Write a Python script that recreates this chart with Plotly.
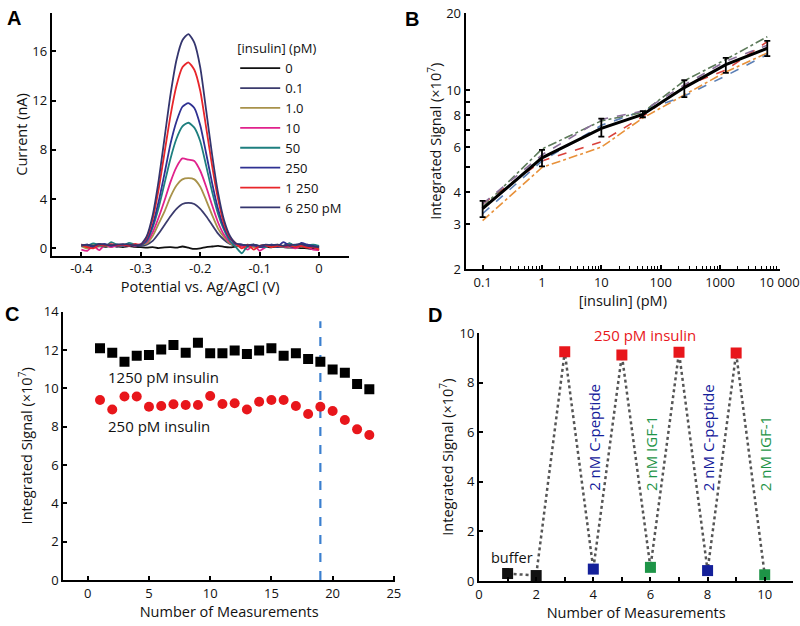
import plotly.graph_objects as go

# ---------------- Panel A data ----------------
potential = [-0.40, -0.39, -0.38, -0.37, -0.36, -0.35, -0.34, -0.33, -0.32, -0.31, -0.30,
             -0.29, -0.28, -0.27, -0.26, -0.25, -0.24, -0.23, -0.22, -0.21, -0.20,
             -0.19, -0.18, -0.17, -0.16, -0.15, -0.14, -0.13, -0.12, -0.11, -0.10,
             -0.09, -0.08, -0.07, -0.06, -0.05, -0.04, -0.03, -0.02, -0.01, 0.00]

cur_0 = [0.15, 0.22, 0.10, 0.18, 0.12, 0.20, 0.15, 0.10, 0.18, 0.12, 0.10,
         0.05, 0.10, 0.02, 0.08, 0.10, 0.05, 0.15, 0.05, -0.05, 0.00,
         0.10, 0.15, 0.20, 0.12, 0.08, 0.15, 0.20, 0.15, 0.18, 0.10,
         0.12, 0.08, 0.15, 0.10, 0.05, 0.08, 0.02, 0.00, -0.05, -0.10]
cur_0p1 = [0.3, 0.1, 0.25, 0.35, 0.2, 0.3, 0.15, 0.3, 0.25, 0.2, 0.2,
           0.3, 0.6, 1.2, 1.9, 2.6, 3.2, 3.6, 3.7, 3.6, 3.2,
           2.6, 1.9, 1.2, 0.7, 0.35, 0.2, 0.25, 0.2, 0.3, 0.15,
           0.2, 0.25, 0.1, 0.2, 0.4, 0.15, 0.2, 0.3, 0.1, 0.0]
cur_1 = [0.2, 0.0, 0.3, 0.15, 0.25, 0.1, 0.3, 0.2, 0.35, 0.25, 0.3,
         0.4, 1.0, 2.0, 3.0, 4.2, 5.1, 5.6, 5.7, 5.6, 5.0,
         3.9, 2.7, 1.6, 0.9, 0.4, 0.25, 0.2, 0.3, 0.1, 0.2,
         0.25, 0.15, 0.3, 0.2, 0.1, 0.25, 0.15, 0.2, 0.1, 0.05]
cur_10 = [-0.1, -0.2, 0.2, -0.15, 0.3, 0.1, 0.25, 0.2, 0.3, 0.2, 0.35,
          0.5, 1.3, 2.5, 3.9, 5.4, 6.6, 7.3, 7.2, 7.1, 6.3,
          5.0, 3.5, 2.1, 1.1, 0.5, 0.3, 0.2, -0.1, 0.3, -0.2,
          0.1, 0.25, 0.2, 0.1, 0.15, 0.0, 0.2, 0.1, -0.1, -0.15]
cur_50 = [0.3, 0.2, 0.4, 0.25, 0.15, 0.5, 0.3, 0.2, 0.45, 0.3, 0.25,
          0.6, 1.7, 3.3, 5.3, 7.3, 8.9, 9.9, 10.2, 9.8, 8.7,
          6.7, 4.6, 2.8, 1.5, 0.6, 0.1, -0.4, 0.2, 0.3, 0.15,
          0.1, 0.3, 0.2, 0.1, 0.4, 0.2, 0.35, 0.25, 0.3, 0.2]
cur_250 = [0.2, 0.3, 0.1, 0.25, 0.35, 0.2, 0.3, 0.25, 0.2, 0.3, 0.25,
           0.7, 1.9, 3.8, 6.1, 8.5, 10.3, 11.5, 11.8, 11.4, 10.0,
           7.7, 5.3, 3.2, 1.7, 0.8, 0.35, 0.3, 0.2, 0.25, 0.1,
           0.2, 0.3, 0.15, 0.5, 0.2, 0.1, 0.45, 0.3, 0.2, 0.1]
cur_1250 = [0.3, 0.1, 0.0, 0.3, 0.2, 0.35, 0.25, 0.3, 0.2, 0.35, 0.3,
            0.9, 2.4, 4.8, 7.8, 10.8, 13.2, 14.7, 15.1, 14.5, 12.8,
            9.8, 6.7, 4.0, 2.0, 0.9, 0.4, 0.0, 0.3, -0.1, 0.2,
            0.25, 0.1, 0.2, 0.15, 0.25, 0.1, 0.2, 0.05, 0.1, -0.1]
cur_6250 = [0.25, 0.3, 0.2, 0.35, 0.3, 0.25, 0.3, 0.35, 0.3, 0.25, 0.3,
            1.0, 2.7, 5.5, 9.0, 12.5, 15.3, 16.9, 17.4, 16.7, 14.7,
            11.2, 7.6, 4.5, 2.3, 1.0, 0.4, 0.3, 0.25, 0.3, 0.2,
            0.3, 0.25, 0.3, 0.2, 0.25, 0.3, 0.35, 0.2, 0.15, 0.1]

a_labels = ["0", "0.1", "1.0", "10", "50", "250", "1 250", "6 250 pM"]
a_colors = ["#111111", "#3b3b6d", "#a8924a", "#e0228c", "#1e7f7f", "#2f3192", "#e8262b", "#34356e"]
a_curves = [cur_0, cur_0p1, cur_1, cur_10, cur_50, cur_250, cur_1250, cur_6250]

# ---------------- Panel B data ----------------
conc_b = [0.1, 1, 10, 50, 250, 1250, 6250]
mean_b = [3.45, 5.45, 7.1, 8.05, 10.25, 12.6, 14.6]
err_up_b = [0.25, 0.4, 0.65, 0.25, 0.7, 0.8, 1.0]
err_dn_b = [0.25, 0.4, 0.5, 0.2, 0.85, 0.9, 1.0]
rep_red = [3.6, 5.3, 6.3, 7.9, 10.4, 12.0, 15.5]
rep_orange = [3.1, 5.0, 6.0, 7.8, 9.6, 11.8, 14.0]
rep_blue = [3.3, 5.3, 7.3, 8.3, 9.5, 11.4, 13.8]
rep_green = [3.5, 5.9, 7.6, 8.2, 10.9, 13.2, 16.2]
rep_purple = [3.6, 5.6, 7.7, 8.3, 10.5, 13.0, 15.0]
b_reps = [(rep_red, "#d9413b", "dash"), (rep_orange, "#e8913a", "dashdot"),
          (rep_blue, "#5b7fb5", "dash"), (rep_green, "#5d7a5a", "dashdot"),
          (rep_purple, "#8a6f9a", "dash")]
b_xticks = [0.1, 1, 10, 100, 1000, 10000]
b_xticktext = ["0.1", "1", "10", "100", "1000", "10 000"]
b_xminor = [0.2, 0.3, 0.4, 0.5, 0.6, 0.7, 0.8, 0.9,
            2, 3, 4, 5, 6, 7, 8, 9,
            20, 30, 40, 50, 60, 70, 80, 90,
            200, 300, 400, 500, 600, 700, 800, 900,
            2000, 3000, 4000, 5000, 6000, 7000, 8000, 9000]
b_yticks = [2, 3, 4, 6, 8, 10, 20]
b_yminor = [5, 7, 9]

# ---------------- Panel C data ----------------
meas_c = list(range(1, 24))
sig_1250 = [12.09, 11.86, 11.39, 11.70, 11.74, 12.03, 12.26, 11.86, 12.38, 11.83, 11.83, 11.97,
            11.79, 11.97, 12.09, 11.70, 11.83, 11.53, 11.39, 10.99, 10.82, 10.23, 9.95]
sig_250 = [9.39, 8.90, 9.57, 9.57, 9.04, 9.08, 9.17, 9.13, 9.13, 9.60, 9.18, 9.22,
           8.90, 9.30, 9.39, 9.39, 9.08, 8.66, 9.04, 8.82, 8.35, 7.86, 7.57]
vline_x = [19, 19]
vline_y = [0, 13.5]

# ---------------- Panel D data ----------------
meas_d = [1, 2, 3, 4, 5, 6, 7, 8, 9, 10]
sig_d = [0.30, 0.22, 9.25, 0.48, 9.12, 0.55, 9.23, 0.42, 9.20, 0.25]
d_colors = ["#111111", "#111111", "#e8161b", "#14209a", "#e8161b", "#1e9447",
            "#e8161b", "#14209a", "#e8161b", "#1e9447"]
d_xticks = [0, 2, 4, 6, 8, 10]
d_xminor = [1, 3, 5, 7, 9]

FONT = "Open Sans"
fig = go.Figure()

# Panel A
for lab, col, cur in zip(a_labels, a_colors, a_curves):
    fig.add_trace(go.Scatter(x=potential, y=cur, mode="lines", name=lab,
                             line=dict(color=col, width=1.8, shape="spline", smoothing=0.6),
                             xaxis="x", yaxis="y", showlegend=True))

# Panel B
for vals, col, dash in b_reps:
    fig.add_trace(go.Scatter(x=conc_b, y=vals, mode="lines", showlegend=False,
                             line=dict(color=col, width=1.6, dash=dash),
                             xaxis="x2", yaxis="y2"))
fig.add_trace(go.Scatter(x=conc_b, y=mean_b, mode="lines", showlegend=False,
                         line=dict(color="#000000", width=3),
                         error_y=dict(type="data", array=err_up_b, arrayminus=err_dn_b,
                                      color="#000000", thickness=1.8, width=3),
                         xaxis="x2", yaxis="y2"))

# Panel C
fig.add_trace(go.Scatter(x=vline_x, y=vline_y, mode="lines", showlegend=False,
                         line=dict(color="#3b7fcf", width=2.2, dash="dash"),
                         xaxis="x3", yaxis="y3"))
fig.add_trace(go.Scatter(x=meas_c, y=sig_1250, mode="markers", showlegend=False,
                         marker=dict(symbol="square", size=10, color="#000000"),
                         xaxis="x3", yaxis="y3"))
fig.add_trace(go.Scatter(x=meas_c, y=sig_250, mode="markers", showlegend=False,
                         marker=dict(symbol="circle", size=10, color="#e8161b"),
                         xaxis="x3", yaxis="y3"))

# Panel D
fig.add_trace(go.Scatter(x=meas_d, y=sig_d, mode="lines+markers", showlegend=False,
                         line=dict(color="#555555", width=2.5, dash="dot"),
                         marker=dict(symbol="square", size=11, color=d_colors),
                         xaxis="x4", yaxis="y4"))

axis_common = dict(showline=True, linecolor="#000000", linewidth=2, ticks="inside",
                   tickcolor="#000000", tickwidth=1.5, ticklen=4, showgrid=False,
                   zeroline=False, tickfont=dict(family=FONT, size=13, color="#111111"),
                   mirror=False, automargin=False)
title_font = dict(family=FONT, size=14.5, color="#111111")
minor_common = dict(ticks="inside", ticklen=3, tickcolor="#000000", tickwidth=1, showgrid=False)

fig.update_layout(
    width=800, height=626, margin=dict(l=0, r=0, t=0, b=0, autoexpand=False),
    paper_bgcolor="white", plot_bgcolor="white",
    font=dict(family=FONT, color="#111111"),
    xaxis=dict(domain=[0.0646, 0.436], anchor="y", range=[-0.45, 0.05],
               tickvals=[-0.4, -0.3, -0.2, -0.1, 0], ticktext=["-0.4", "-0.3", "-0.2", "-0.1", "0"],
               title=dict(text="Potential vs. Ag/AgCl (V)", font=title_font, standoff=6),
               **axis_common),
    yaxis=dict(domain=[0.5915, 0.979], anchor="x", range=[-0.6, 19.1],
               tickvals=[0, 4, 8, 12, 16],
               title=dict(text="Current (nA)", font=title_font, standoff=1),
               **axis_common),
    xaxis2=dict(domain=[0.582, 0.975], anchor="y2", type="log", range=[-1.287, 4.01],
                tickvals=b_xticks, ticktext=b_xticktext,
                minor=dict(tickvals=b_xminor, **minor_common),
                title=dict(text="[insulin] (pM)", font=title_font, standoff=6),
                **axis_common),
    yaxis2=dict(domain=[0.5698, 0.9788], anchor="x2", type="log", range=[0.30103, 1.30103],
                tickvals=b_yticks, ticktext=[str(v) for v in b_yticks],
                minor=dict(tickvals=b_yminor, ticks="inside", ticklen=4, tickcolor="#000000",
                           tickwidth=1.5, showgrid=False),
                title=dict(text="Integrated Signal (×10<sup>7</sup>)", font=title_font, standoff=1),
                **axis_common),
    xaxis3=dict(domain=[0.0791, 0.4938], anchor="y3", range=[-2, 25.1],
                tickvals=[0, 5, 10, 15, 20, 25],
                title=dict(text="Number of Measurements", font=title_font, standoff=6),
                **axis_common),
    yaxis3=dict(domain=[0.0735, 0.5021], anchor="x3", range=[0, 14],
                tickvals=[0, 2, 4, 6, 8, 10, 12, 14],
                title=dict(text="Integrated Signal (×10<sup>7</sup>)", font=title_font, standoff=8),
                **axis_common),
    xaxis4=dict(domain=[0.5988, 0.9916], anchor="y4", range=[0, 11],
                tickvals=d_xticks,
                minor=dict(tickvals=d_xminor, ticks="inside", ticklen=4, tickcolor="#000000",
                           tickwidth=1.5, showgrid=False),
                title=dict(text="Number of Measurements", font=title_font, standoff=2),
                **axis_common),
    yaxis4=dict(domain=[0.0719, 0.4676], anchor="x4", range=[0, 10],
                tickvals=[0, 2, 4, 6, 8, 10],
                title=dict(text="Integrated Signal (×10<sup>7</sup>)", font=title_font, standoff=2),
                **axis_common),
    legend=dict(x=0.294, y=0.942, xanchor="left", yanchor="top",
                bgcolor="rgba(0,0,0,0)", borderwidth=0,
                font=dict(family=FONT, size=13, color="#111111"),
                title=dict(text="[insulin] (pM)", font=dict(family=FONT, size=13, color="#111111")),
                tracegroupgap=0, itemwidth=40),
)

panel_letters = [("A", 14, 18), ("B", 412, 19), ("C", 12, 314), ("D", 435, 315)]
for txt, px, py in panel_letters:
    fig.add_annotation(text="<b>" + txt + "</b>", x=px / 800, y=1 - py / 626, xref="paper", yref="paper",
                       xanchor="center", yanchor="middle", showarrow=False,
                       font=dict(family="Liberation Sans", size=20, color="#000000"))

fig.add_annotation(text="1250 pM insulin", x=1.45, y=10.6, xref="x3", yref="y3", xanchor="left",
                   showarrow=False, font=dict(family=FONT, size=15, color="#111111"))
fig.add_annotation(text="250 pM insulin", x=1.45, y=8.03, xref="x3", yref="y3", xanchor="left",
                   showarrow=False, font=dict(family=FONT, size=15, color="#111111"))

fig.add_annotation(text="250 pM insulin", x=5.8, y=9.93, xref="x4", yref="y4",
                   showarrow=False, font=dict(family=FONT, size=15, color="#e8161b"))
for xv, txt, col in [(4, "2 nM C-peptide", "#14209a"), (6, "2 nM IGF-1", "#1e9447"),
                     (8, "2 nM C-peptide", "#14209a"), (10, "2 nM IGF-1", "#1e9447")]:
    fig.add_annotation(text=txt, x=xv, y=3.55, xref="x4", yref="y4", textangle=-90,
                       yanchor="bottom", showarrow=False,
                       font=dict(family=FONT, size=15, color=col))
fig.add_annotation(text="buffer", x=1.15, y=0.93, xref="x4", yref="y4",
                   showarrow=False, font=dict(family=FONT, size=14.5, color="#111111"))

fig.write_html("out.html", config={"displayModeBar": False},
               post_script="document.body.style.margin='0';document.body.style.padding='0';"
                           "document.body.style.overflow='hidden';")
